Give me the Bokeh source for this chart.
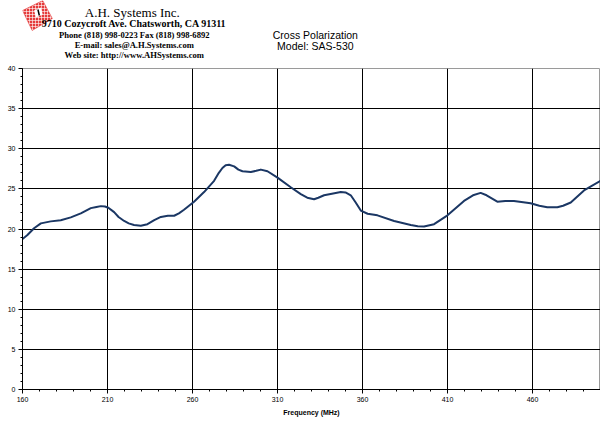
from bokeh.plotting import figure
from bokeh.layouts import column
from bokeh.models import Range1d, Label, FixedTicker, SingleIntervalTicker
from bokeh.embed import file_html
from bokeh.resources import INLINE

# ---- data ----
freq_mhz = [160, 162.9, 166.8, 170.8, 176.6, 182.5, 188.4, 194.3, 200.2, 203.5, 206.1,
            208.5, 210.5, 213.9, 216.5, 219.8, 222.5, 225.6, 229.6, 233.5, 237.5, 241.4, 245.5,
            249.2, 252, 255, 260.9, 266.8, 272.7, 275.5, 277.6, 279.5, 281.5, 284.5, 287,
            289.4, 294.3, 297.5, 300.2, 304.1, 310, 317.8, 323.7, 327.5, 331.5, 334, 337.4,
            342, 347.2, 350, 353.1, 356, 359, 363, 368.8, 378.6, 388.4, 392.5,
            396.2, 402.1, 410, 419.7, 425, 429.5, 433, 439.3, 444, 449.1, 458.9, 464, 468.7,
            474.6, 478, 482.5, 490.3, 500]
cross_pol = [18.75, 19.25, 20.1, 20.7, 20.95, 21.1, 21.45, 21.95, 22.6, 22.75, 22.85,
             22.8, 22.65, 22.1, 21.5, 21.0, 20.7, 20.5, 20.4, 20.6, 21.1, 21.5, 21.65,
             21.65, 21.95, 22.4, 23.4, 24.6, 26.0, 27.0, 27.6, 27.95, 28.0, 27.8, 27.4,
             27.2, 27.1, 27.25, 27.4, 27.2, 26.4, 25.2, 24.35, 23.9, 23.7, 23.9, 24.2,
             24.4, 24.6, 24.55, 24.2, 23.3, 22.3, 21.9, 21.7, 21.0, 20.5, 20.35,
             20.3, 20.6, 21.7, 23.5, 24.2, 24.5, 24.2, 23.4, 23.5, 23.5, 23.2, 22.9, 22.7,
             22.7, 22.9, 23.3, 24.8, 26.0]
x_ticks = [160, 210, 260, 310, 360, 410, 460]
x_minor = list(range(170, 500, 10))
x_grid = [210, 260, 310, 360, 410, 460]
y_grid = [5, 10, 15, 20, 25, 30, 35]

header_lines = ["9710 Cozycroft Ave. Chatsworth, CA 91311",
                "Phone (818) 998-0223 Fax (818) 998-6892",
                "E-mail: sales@A.H.Systems.com",
                "Web site: http://www.AHSystems.com"]

# ---- header ----
header = figure(width=600, height=63, x_range=Range1d(0, 600), y_range=Range1d(63, 0),
                toolbar_location=None, output_backend="svg",
                x_axis_type=None, y_axis_type=None, min_border=0)
header.outline_line_color = None
header.grid.visible = False
header.background_fill_color = "white"
header.border_fill_color = "white"

header.patch(x=[0, 21, 31, 10], y=[10, 0, 18, 30], fill_color="#e53b3b",
             line_color="#e53b3b", line_width=0.5,
             hatch_pattern="cross", hatch_color="white", hatch_scale=3, hatch_weight=0.6)
header.patch(x=[12, 19, 21, 14], y=[10, 7, 14, 17], fill_color="white", line_color=None)
header.line(x=[16, 17.5], y=[9, 15], line_color="black", line_width=1.5)

header.add_layout(Label(x=114, y=12, text="A.H. Systems Inc.", text_font="Liberation Serif",
                        text_font_size="13px", text_align="center", text_baseline="middle",
                        text_color="black"))
sizes = ["10px", "8.6px", "8.6px", "8.6px"]
ys = [23, 34, 44, 54]
for t, s, yy in zip(header_lines, sizes, ys):
    header.add_layout(Label(x=116, y=yy, text=t, text_font="Liberation Serif",
                            text_font_size=s, text_font_style="bold", text_align="center",
                            text_baseline="middle", text_color="black"))
header.add_layout(Label(x=304, y=34, text="Cross Polarization", text_font="Liberation Sans",
                        text_font_size="10.5px", text_align="center", text_baseline="middle",
                        text_color="black"))
header.add_layout(Label(x=304, y=45, text="Model: SAS-530", text_font="Liberation Sans",
                        text_font_size="10.5px", text_align="center", text_baseline="middle",
                        text_color="black"))

# ---- main chart ----
p = figure(width=600, height=358, x_range=Range1d(160, 500), y_range=Range1d(0, 40),
           toolbar_location=None, output_backend="svg",
           min_border_left=22, min_border_right=0, min_border_top=5, min_border_bottom=32)
p.background_fill_color = "white"
p.border_fill_color = "white"
p.outline_line_color = "#9a9a9a"

p.xaxis.ticker = FixedTicker(ticks=x_ticks, minor_ticks=x_minor)
p.yaxis.ticker = SingleIntervalTicker(interval=5, num_minor_ticks=5)
for ax in (p.xaxis, p.yaxis):
    ax.axis_line_color = "black"
    ax.major_tick_line_color = "black"
    ax.minor_tick_line_color = "black"
    ax.major_tick_in = 0
    ax.major_tick_out = 4
    ax.minor_tick_in = 0
    ax.minor_tick_out = 2
    ax.major_label_text_font = "Liberation Sans"
    ax.major_label_text_font_size = "7px"
    ax.major_label_text_color = "black"
    ax.major_label_standoff = 3

p.xaxis.axis_label = "Frequency (MHz)"
p.xaxis.axis_label_text_font = "Liberation Sans"
p.xaxis.axis_label_text_font_size = "7px"
p.xaxis.axis_label_text_font_style = "bold"
p.xaxis.axis_label_text_color = "black"
p.xaxis.axis_label_standoff = 4

p.xgrid.ticker = FixedTicker(ticks=x_grid)
p.ygrid.ticker = FixedTicker(ticks=y_grid)
p.grid.grid_line_color = "black"
p.grid.grid_line_width = 1

p.line(freq_mhz, cross_pol, line_color="#1b3764", line_width=2, line_join="round")

layout = column(header, p)
open("out.html", "w").write(file_html(layout, INLINE))
